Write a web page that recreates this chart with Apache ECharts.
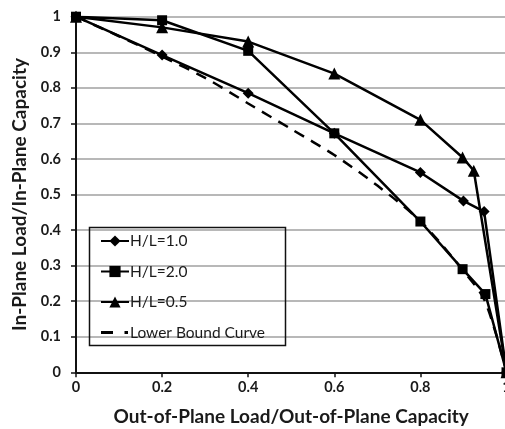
<!DOCTYPE html>
<html>
<head>
<meta charset="utf-8">
<script src="https://cdn.jsdelivr.net/npm/echarts@6/dist/echarts.min.js"></script>
<style>html,body{margin:0;padding:0;background:#fff;}#c{width:505px;height:429px;}</style>
</head>
<body>
<div id="c"></div>
<script>
// Data
const hl10X = [0, 0.2, 0.4, 0.6, 0.8, 0.9, 0.948, 1];
const hl10Y = [1, 0.892, 0.785, 0.672, 0.562, 0.482, 0.452, 0];
const hl20X = [0, 0.2, 0.4, 0.6, 0.8, 0.898, 0.951, 1];
const hl20Y = [1, 0.99, 0.904, 0.672, 0.424, 0.29, 0.22, 0];
const hl05X = [0, 0.2, 0.4, 0.6, 0.8, 0.898, 0.924, 1];
const hl05Y = [1, 0.97, 0.93, 0.84, 0.71, 0.604, 0.567, 0];
const lbX = [0, 0.1, 0.2, 0.3, 0.4, 0.5, 0.6, 0.7, 0.8, 0.9, 0.95, 1];
const lbY = [1, 0.945, 0.888, 0.828, 0.756, 0.684, 0.611, 0.525, 0.425, 0.285, 0.2, 0];
const seriesNames = ['H/L=1.0', 'H/L=2.0', 'H/L=0.5', 'Lower Bound Curve'];
const xTitle = 'Out-of-Plane Load/Out-of-Plane Capacity';
const yTitle = 'In-Plane Load/In-Plane Capacity';

const zip = (xs, ys) => xs.map((x, i) => [x, ys[i]]);
const FONT = 'Lato';
// legend icon "— ·" for the dashed curve (tiny corner specks fix the 28x14 box)
const dashIcon = 'path://M0,0h0.01v0.01h-0.01zM27.99,13.99h0.01v0.01h-0.01zM0,5.5h12v3H0zM23.5,5.5h3.5v3h-3.5z';
const chart = echarts.init(document.getElementById('c'), null, {renderer: 'canvas'});
chart.setOption({
  animation: false,
  backgroundColor: '#fff',
  grid: {left: 76, top: 16.7, width: 430.5, height: 355.6, containLabel: false, outerBoundsMode: 'none'},
  xAxis: {
    type: 'value', min: 0, max: 1, interval: 0.2,
    name: xTitle, nameLocation: 'middle', nameGap: 35,
    nameTextStyle: {fontFamily: FONT, fontWeight: 'bold', fontSize: 19, color: '#1a1a1a'},
    axisLine: {show: true, lineStyle: {color: '#111', width: 2}},
    axisTick: {show: true, length: 5, lineStyle: {color: '#111', width: 1.5}},
    axisLabel: {fontFamily: FONT, fontWeight: 'bold', fontSize: 14.5, color: '#1a1a1a', margin: 8,
      formatter: v => String(Math.round(v * 10) / 10)},
    splitLine: {show: false}
  },
  yAxis: {
    type: 'value', min: 0, max: 1, interval: 0.1,
    name: yTitle, nameLocation: 'middle', nameGap: 47,
    nameTextStyle: {fontFamily: FONT, fontWeight: 'bold', fontSize: 19, color: '#1a1a1a'},
    axisLine: {show: true, lineStyle: {color: '#111', width: 2}},
    axisTick: {show: true, length: 5, lineStyle: {color: '#111', width: 1.5}},
    axisLabel: {fontFamily: FONT, fontWeight: 'bold', fontSize: 14.5, color: '#1a1a1a', margin: 15,
      formatter: v => String(Math.round(v * 10) / 10)},
    splitLine: {show: true, lineStyle: {color: '#a0a0a0', width: 1.5}}
  },
  legend: {
    left: 100, top: 233, orient: 'vertical', itemGap: 14.5, itemWidth: 28, itemHeight: 14,
    padding: 0,
    textStyle: {fontFamily: FONT, fontSize: 15.5, color: '#1a1a1a', padding: [0, 0, 0, -4]},
    data: [seriesNames[0], seriesNames[1], seriesNames[2], {name: seriesNames[3], icon: dashIcon}]
  },
  graphic: [{
    type: 'rect', left: 87, top: 225, z: 100,
    shape: {width: 196, height: 118},
    style: {fill: 'none', stroke: '#111', lineWidth: 1.5}
  }],
  series: [
    {name: seriesNames[0], type: 'line', data: zip(hl10X, hl10Y), symbol: 'diamond', symbolSize: 11,
      lineStyle: {color: '#000', width: 2.5}, itemStyle: {color: '#000'}, z: 3},
    {name: seriesNames[1], type: 'line', data: zip(hl20X, hl20Y), symbol: 'rect', symbolSize: 10,
      lineStyle: {color: '#000', width: 2.5}, itemStyle: {color: '#000'}, z: 3},
    {name: seriesNames[2], type: 'line', data: zip(hl05X, hl05Y), symbol: 'triangle', symbolSize: 12,
      lineStyle: {color: '#000', width: 2.5}, itemStyle: {color: '#000'}, z: 3},
    {name: seriesNames[3], type: 'line', data: zip(lbX, lbY), symbol: 'none', smooth: 0.3,
      lineStyle: {color: '#000', width: 2.5, type: [11, 8]}, itemStyle: {color: '#000'}, z: 2}
  ]
});
</script>
</body>
</html>
